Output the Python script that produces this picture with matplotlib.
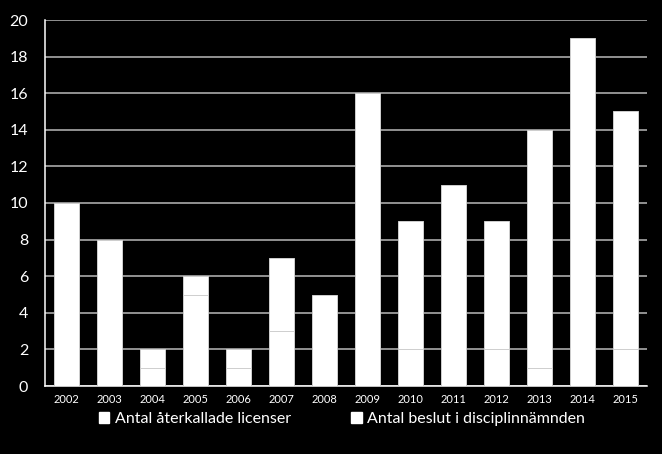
import matplotlib.pyplot as plt
import numpy as np
from matplotlib.patches import Patch

plt.rcParams['font.family'] = ['Lato', 'DejaVu Sans']

years = ['2002', '2003', '2004', '2005', '2006', '2007', '2008',
         '2009', '2010', '2011', '2012', '2013', '2014', '2015']
aterkallade = [0, 0, 1, 5, 1, 3, 0, 0, 2, 0, 2, 1, 0, 2]
beslut = [10, 8, 1, 1, 1, 4, 5, 16, 7, 11, 7, 13, 19, 13]
labels = ['Antal återkallade licenser', 'Antal beslut i disciplinnämnden']

fig = plt.figure(figsize=(6.62, 4.54), dpi=100)
fig.patch.set_facecolor('black')
ax = fig.add_axes([45 / 662, 1 - 386 / 454, 602 / 662, 366 / 454])
ax.set_facecolor('black')

x = np.arange(len(years))
w = 0.58
ax.bar(x, aterkallade, w, color='white', edgecolor='#cfcfcf', linewidth=0.7, zorder=3)
ax.bar(x, beslut, w, bottom=aterkallade, color='white', edgecolor='#cfcfcf', linewidth=0.7, zorder=3)

ax.set_xlim(-0.5, len(years) - 0.5)
ax.set_ylim(0, 20)
ax.set_yticks(range(0, 21, 2))
ax.set_xticks(x)
ax.set_xticklabels(years)
ax.yaxis.grid(True, color='#b8b8b8', linewidth=1.1, zorder=0)
ax.tick_params(axis='y', length=0, pad=12, labelsize=11.5, labelcolor='white')
ax.tick_params(axis='x', length=0, pad=6, labelsize=8, labelcolor='white')

for side in ['top', 'right']:
    ax.spines[side].set_visible(False)
for side in ['left', 'bottom']:
    ax.spines[side].set_color('white')
    ax.spines[side].set_linewidth(1.1)

handles = [Patch(facecolor='white', edgecolor='white') for _ in labels]
leg = fig.legend(handles, labels, loc='center', bbox_to_anchor=(342 / 662, 1 - 419 / 454),
                 ncol=2, frameon=False, fontsize=11.5, handlelength=0.65, handleheight=0.65,
                 handletextpad=0.35, columnspacing=3.8, labelcolor='white')

plt.savefig('out.png', facecolor='black')
